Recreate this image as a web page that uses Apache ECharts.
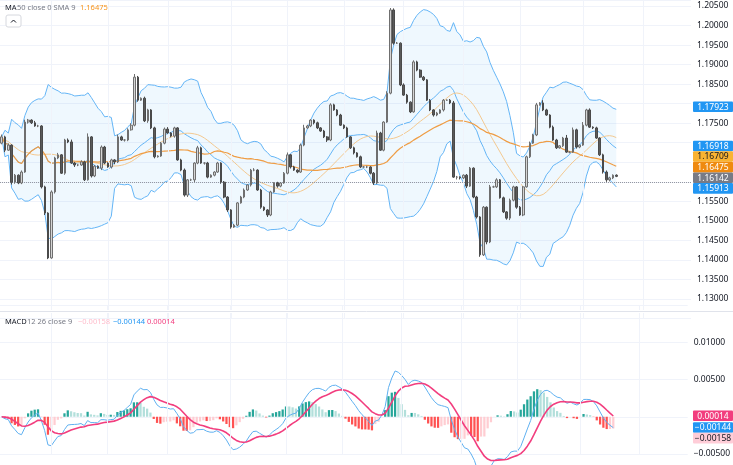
<!DOCTYPE html>
<html><head><meta charset="utf-8">
<script src="https://cdn.jsdelivr.net/npm/echarts@6/dist/echarts.min.js"></script>
<style>html,body{margin:0;padding:0;background:#fff}#c{width:733px;height:465px}</style>
</head><body><div id="c"></div>
<script>
// ---- data ----
const firstOpen = 1.1699;
const closes = [
1.1715,1.1681,1.1694,1.1599,1.1617,1.1597,1.1625,1.1753,1.1758,1.1751,1.1743,1.1743,1.1587,1.1520,1.1405,1.1574,1.1661,1.1669,1.1622,1.1707,1.1702,1.1648,1.1643,1.1643,1.1651,1.1605,1.1715,1.1615,1.1640,1.1635,1.1689,1.1648,1.1638,1.1656,1.1651,1.1715,1.1707,1.1707,1.1733,1.1745,1.1868,1.1809,1.1814,1.1756,1.1784,1.1738,1.1664,1.1666,
1.1699,1.1735,1.1725,1.1717,1.1738,1.1656,1.1630,1.1566,1.1605,1.1605,1.1648,1.1687,1.1648,1.1648,1.1612,1.1617,1.1625,1.1648,1.1599,1.1561,1.1528,1.1484,1.1489,1.1546,1.1561,1.1579,1.1592,1.1630,1.1630,1.1579,1.1535,1.1528,1.1515,1.1574,1.1597,1.1589,1.1597,1.1622,1.1669,1.1638,1.1630,1.1625,1.1694,1.1738,1.1743,1.1758,
1.1751,1.1738,1.1730,1.1715,1.1707,1.1797,1.1784,1.1771,1.1745,1.1738,1.1715,1.1687,1.1674,1.1664,1.1638,1.1638,1.1638,1.1622,1.1597,1.1725,1.1681,1.1753,1.1827,1.2040,1.1955,1.1955,1.1848,1.1822,1.1804,1.1779,1.1907,1.1886,1.1868,1.1861,1.1809,1.1784,1.1771,1.1776,1.1784,1.1809,1.1809,1.1802,1.1612,1.1612,1.1610,1.1617,1.1589,
1.1635,1.1561,1.1510,1.1413,1.1535,1.1446,1.1587,1.1587,1.1605,1.1559,1.1523,1.1507,1.1553,1.1587,1.1535,1.1515,1.1587,1.1664,1.1699,1.1720,1.1797,1.1802,1.1784,1.1771,1.1740,1.1707,1.1687,1.1692,1.1712,1.1676,1.1676,1.1733,1.1689,1.1694,1.1745,1.1784,1.1740,1.1738,1.1712,1.1669,1.1625,1.1605,1.1610,1.1617,1.1614];
// wick lengths in units of 0.0001
const upWick = [6,3,4,2,3,2,4,6,3,2,5,3,2,3,2,4,3,5,2,3,4,6,3,2,4,3,9,2,3,2,4,3,2,3,2,6,3,2,4,5,8,3,2,4,3,2,3,2,
3,4,5,2,3,2,3,4,2,3,2,5,3,2,3,2,2,3,2,3,2,2,3,2,3,4,2,3,5,2,3,2,2,3,2,3,2,3,6,2,3,2,4,8,3,2,
2,3,2,3,2,4,3,2,3,2,3,2,3,2,3,2,3,2,3,6,3,2,5,5,4,3,2,4,3,2,4,3,2,3,2,3,2,3,2,3,2,3,5,3,2,2,3,
3,2,3,2,3,2,5,3,4,2,3,2,4,3,2,3,2,3,4,3,5,2,7,3,2,4,3,2,3,8,2,6,3,2,8,3,4,2,3,2,3,4,3,2,2];
const dnWick = [3,5,2,6,4,3,3,2,4,3,2,3,4,5,3,2,4,3,2,4,3,2,5,3,2,3,2,4,3,2,5,3,2,4,6,3,2,4,3,2,3,4,2,3,5,3,4,2,
2,3,2,3,4,2,3,4,5,3,6,3,2,4,3,2,3,2,4,3,5,4,2,3,2,3,2,4,3,2,4,3,5,3,2,4,3,2,3,4,2,3,2,3,2,3,
4,3,2,3,5,3,2,3,2,3,2,3,4,2,3,2,3,3,5,3,2,3,2,3,4,2,3,2,4,3,2,3,2,3,2,3,4,3,2,4,2,3,2,6,4,3,5,
2,3,4,5,3,6,3,2,3,2,3,4,5,3,4,2,3,2,3,2,3,2,3,2,3,2,3,2,3,2,3,2,4,3,2,3,2,3,2,3,4,5,4,3,2];
const priceTicks = [1.13,1.135,1.14,1.145,1.15,1.155,1.175,1.185,1.19,1.195,1.2,1.205];
const macdTicks = [-0.005,0.005,0.01];
const priceBadges = [[1.17923,'#2196f3','#fff'],[1.16918,'#2196f3','#fff'],[1.16709,'#f9b332','#131722'],[1.16475,'#ef8a10','#fff'],[1.16142,'#787b86','#fff'],[1.15913,'#2196f3','#fff']];
const macdBadges = [[0.00014,'#f23d7e','#fff','0.00014'],[-0.00144,'#2196f3','#fff','−0.00144'],[-0.00158,'#ffcdd8','#131722','−0.00158']];
const vGridIdx = [15,32,50,69,86,103,121,139,156,175,193];
const lastPrice = 1.16142;
const EMPTY = 22;

// ---- build ----
const n = closes.length, total = n + EMPTY;
const cats = Array.from({length: total}, (_, i) => String(i));
const ohlc = closes.map((c, i) => {
  const o = i === 0 ? firstOpen : closes[i-1];
  return [o, c, Math.min(o,c) - (dnWick[i]||0)*1e-4, Math.max(o,c) + (upWick[i]||0)*1e-4];
});
function sma(arr, p){ return arr.map((_, i) => { const s = arr.slice(Math.max(0,i-p+1), i+1); return s.reduce((a,b)=>a+b,0)/s.length; }); }
function ema(arr, p){ const k = 2/(p+1); let e = arr[0]; return arr.map(v => (e = v*k + e*(1-k))); }
const basis = sma(closes, 20);
const sd = closes.map((_, i) => { const s = closes.slice(Math.max(0,i-19), i+1); const m = basis[i]; return Math.sqrt(s.reduce((a,b)=>a+(b-m)*(b-m),0)/s.length); });
const upper = basis.map((m,i)=>m+2*sd[i]), lower = basis.map((m,i)=>m-2*sd[i]);
const band = upper.map((u,i)=>u-lower[i]);
const ma50 = sma(closes, 50);
const smooth = sma(basis, 9);
const e12 = ema(closes, 12), e26 = ema(closes, 26);
const macd = e12.map((v,i)=>v-e26[i]);
const signal = ema(macd, 9);
const hist = macd.map((v,i)=>v-signal[i]);
const histData = hist.map((h,i)=>{
  const prev = i>0 ? hist[i-1] : h;
  let col = h>=0 ? (h>=prev ? '#26a69a' : '#b2dfdb') : (h<=prev ? '#ff5252' : '#ffcdd2');
  return {value:h, itemStyle:{color:col}};
});
const F = 'Noto Sans, sans-serif';
const FS = 8.5;
const vLines = vGridIdx.map(i=>({xAxis:String(i)}));
const chart = echarts.init(document.getElementById('c'), null, {renderer:'canvas'});
const gridLine = {show:true, lineStyle:{color:'#f0f3fa', width:1}};
chart.setOption({
  animation:false,
  grid:[{left:0,right:42,top:0,height:318.5},{left:0,right:42,top:305,height:149}],
  xAxis:[
    {type:'category',data:cats,gridIndex:0,boundaryGap:true,axisLine:{show:false},axisTick:{show:false},axisLabel:{show:false},splitLine:{show:false}},
    {type:'category',data:cats,gridIndex:1,boundaryGap:true,axisLine:{show:false},axisTick:{show:false},axisLabel:{show:false},splitLine:{show:false}}
  ],
  yAxis:[
    {type:'value',gridIndex:0,position:'right',min:1.125,max:1.20655,interval:0.005,splitLine:gridLine,axisLine:{show:false},axisTick:{show:false},
     axisLabel:{margin:6,color:'#131722',fontSize:FS,fontFamily:F,formatter:v=>priceTicks.some(t=>Math.abs(t-v)<1e-7)?v.toFixed(5):''}},
    {type:'value',gridIndex:1,position:'right',min:-0.005,max:0.015,interval:0.005,splitLine:gridLine,axisLine:{show:false},axisTick:{show:false},
     axisLabel:{margin:6,color:'#131722',fontSize:FS,fontFamily:F,formatter:v=>macdTicks.some(t=>Math.abs(t-v)<1e-9)?(v<0?'−':'')+Math.abs(v).toFixed(5):''}}
  ],
  series:[
    {type:'line',xAxisIndex:0,yAxisIndex:0,data:lower,stack:'bb',symbol:'none',lineStyle:{color:'#64b5f6',width:1},z:2},
    {type:'line',xAxisIndex:0,yAxisIndex:0,data:band,stack:'bb',symbol:'none',lineStyle:{color:'#64b5f6',width:1},areaStyle:{color:'rgba(33,150,243,0.1)'},z:2},
    {type:'line',xAxisIndex:0,yAxisIndex:0,data:basis,symbol:'none',lineStyle:{color:'#64b5f6',width:1},z:3},
    {type:'line',xAxisIndex:0,yAxisIndex:0,data:smooth,symbol:'none',lineStyle:{color:'#f3c88f',width:1},z:3},
    {type:'line',xAxisIndex:0,yAxisIndex:0,data:ma50,symbol:'none',lineStyle:{color:'#ef9d45',width:1.2},z:3},
    {type:'candlestick',xAxisIndex:0,yAxisIndex:0,data:ohlc,barWidth:'62%',
     itemStyle:{color:'#d4d4d4',color0:'#5a5a5a',borderColor:'#6f6f6f',borderColor0:'#4a4a4a',borderWidth:1},z:5,
     markLine:{silent:true,symbol:'none',label:{show:false},animation:false,
       data:[{yAxis:lastPrice,lineStyle:{color:'#9598a1',type:'dotted',width:1}}].concat(vLines.map(d=>Object.assign({lineStyle:{color:'#f0f3fa',type:'solid',width:1}},d)))}},
    {type:'bar',xAxisIndex:1,yAxisIndex:1,data:histData,barWidth:'68%',z:2,clip:false,
     markLine:{silent:true,symbol:'none',label:{show:false},data:vLines.map(d=>Object.assign({lineStyle:{color:'#f0f3fa',type:'solid',width:1}},d))}},
    {type:'line',xAxisIndex:1,yAxisIndex:1,data:macd,symbol:'none',clip:false,lineStyle:{color:'#5fb0f0',width:1},z:3},
    {type:'line',xAxisIndex:1,yAxisIndex:1,data:signal,symbol:'none',clip:false,lineStyle:{color:'#f23d7e',width:1.6},z:3}
  ]
});
function badges(list, axisIdx){
  const items = list.map(b=>({b, y: chart.convertToPixel({yAxisIndex:axisIdx}, b[0])}));
  items.sort((a,c)=>a.y-c.y);
  const H = 10.6;
  for (let i=1;i<items.length;i++) if (items[i].y < items[i-1].y + H) items[i].y = items[i-1].y + H;
  return items.map(it=>({type:'group',x:693,y:it.y-H/2,zlevel:2,z:100,children:[
    {type:'rect',shape:{x:0,y:0,width:40,height:H,r:1},style:{fill:it.b[1]}},
    {type:'text',style:{x:20,y:H/2+0.5,text:it.b[3]||it.b[0].toFixed(5),fill:it.b[2],font:FS+'px '+F,textAlign:'center',textVerticalAlign:'middle'}}
  ]}));
}
const t = (x,y,text,fill)=>({type:'text',x,y,zlevel:2,z:60,style:{text,fill,font:'7.5px '+F}});
const g = [
  {type:'rect',zlevel:1,shape:{x:0,y:310,width:733,height:3},style:{fill:'#fff'},z:50},
  {type:'line',zlevel:1,shape:{x1:0,y1:311.5,x2:733,y2:311.5},style:{stroke:'#e0e3eb',lineWidth:1},z:51},
  t(5,4,'MA','#131722'), t(17,4,'50 close 0 SMA 9','#787b86'), t(80,4,'1.16475','#f7931a'),
  {type:'rect',zlevel:2,x:6,y:15,z:60,shape:{width:15,height:12,r:2},style:{fill:'#fff',stroke:'#d6d8de',lineWidth:1}},
  {type:'polyline',zlevel:2,z:61,shape:{points:[[11,22.5],[13.5,20],[16,22.5]]},style:{stroke:'#131722',lineWidth:1,fill:null}},
  t(5,318,'MACD','#131722'), t(27,318,'12 26 close 9','#787b86'), t(78,318,'−0.00158','#ffbccb'),
  t(113,318,'−0.00144','#2196f3'), t(147,318,'0.00014','#f23d7e')
].concat(badges(priceBadges,0), badges(macdBadges,1));
chart.setOption({graphic:g});
</script></body></html>
